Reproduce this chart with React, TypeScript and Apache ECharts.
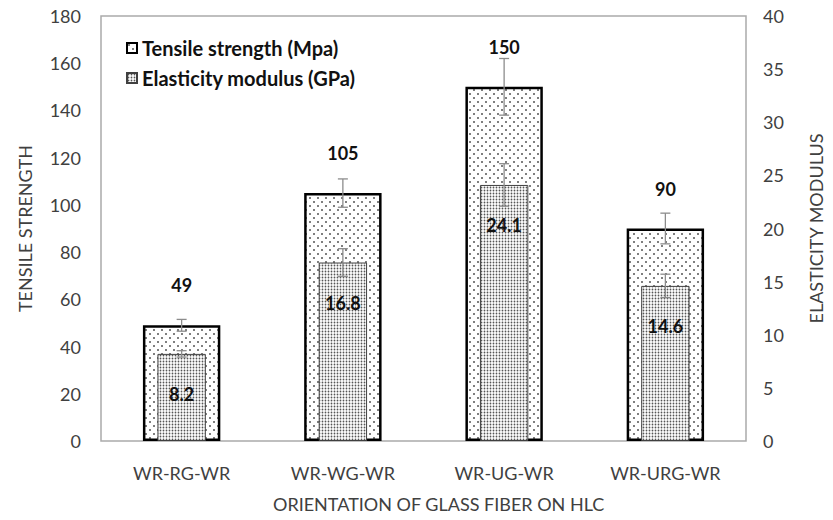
import React, { useEffect, useRef } from "react";
import * as echarts from "echarts";

const categories = ["WR-RG-WR", "WR-WG-WR", "WR-UG-WR", "WR-URG-WR"];
const tensile = [49, 105, 150, 90];
const tensileErr = [2.5, 6, 12, 6.5];
const elasticity = [8.2, 16.8, 24.1, 14.6];
const elasticityErr = [0.3, 1.3, 2.0, 1.1];

const FONT = "Lato";

function makePattern(tile: number, dots: [number, number][], r: number, dotColor: string) {
  const c = document.createElement("canvas");
  c.width = tile;
  c.height = tile;
  const ctx = c.getContext("2d")!;
  ctx.fillStyle = "#ffffff";
  ctx.fillRect(0, 0, tile, tile);
  ctx.fillStyle = dotColor;
  dots.forEach(([x, y]) => {
    ctx.beginPath();
    ctx.arc(x, y, r, 0, Math.PI * 2);
    ctx.fill();
  });
  return { image: c.toDataURL(), repeat: "repeat", imageWidth: tile, imageHeight: tile } as any;
}

export default function App() {
  const ref = useRef<HTMLDivElement>(null);
  useEffect(() => {
    if (!ref.current) return;
    const chart = echarts.init(ref.current, null, { renderer: "svg" });
    const sparse = makePattern(8, [[2, 2], [6, 6]], 1.0, "#555555");
    const dense = makePattern(3, [[1.5, 1.5]], 0.9, "#555555");

    const errItem = (params: any, api: any) => {
      const x = api.value(0);
      const lo = api.coord([x, api.value(1)]);
      const hi = api.coord([x, api.value(2)]);
      const cap = 5;
      const style = { stroke: "#8c8c8c", lineWidth: 1.3 };
      return {
        type: "group",
        children: [
          { type: "line", shape: { x1: lo[0], y1: lo[1], x2: hi[0], y2: hi[1] }, style },
          { type: "line", shape: { x1: hi[0] - cap, y1: hi[1], x2: hi[0] + cap, y2: hi[1] }, style },
          { type: "line", shape: { x1: lo[0] - cap, y1: lo[1], x2: lo[0] + cap, y2: lo[1] }, style },
        ],
      };
    };

    const labelStyle = { fontFamily: FONT, fontWeight: "bold", fontSize: 18, color: "#111" };

    chart.setOption({
      animation: false,
      textStyle: { fontFamily: FONT },
      grid: {
        left: 101,
        right: 85,
        top: 16,
        bottom: 79,
        show: true,
        borderColor: "#ababab",
        borderWidth: 1.5,
      },
      legend: {
        left: 121,
        top: 32,
        orient: "vertical",
        itemWidth: 10,
        itemHeight: 10,
        itemGap: 8,
        textStyle: { fontFamily: FONT, fontWeight: "bold", fontSize: 20, color: "#111", lineHeight: 22 },
        data: [
          { name: "Tensile strength (Mpa)", icon: "rect" },
          { name: "Elasticity modulus (GPa)", icon: "rect" },
        ],
      },
      xAxis: [
        {
          type: "category",
          data: categories,
          axisLine: { show: false },
          axisTick: { show: false },
          axisLabel: { fontFamily: FONT, fontSize: 18, color: "#404040", margin: 23 },
        },
        { type: "category", data: categories, show: false },
      ],
      yAxis: [
        {
          type: "value",
          min: 0,
          max: 180,
          interval: 20,
          name: "TENSILE STRENGTH",
          nameLocation: "middle",
          nameGap: 67,
          nameTextStyle: { fontFamily: FONT, fontSize: 18, color: "#404040" },
          axisLine: { show: false },
          axisTick: { show: false },
          splitLine: { show: false },
          axisLabel: { fontFamily: FONT, fontSize: 18, color: "#404040", margin: 20 },
        },
        {
          type: "value",
          min: 0,
          max: 40,
          interval: 5,
          position: "right",
          name: "ELASTICITY MODULUS",
          nameLocation: "middle",
          nameGap: 61,
          nameRotate: 90,
          nameTextStyle: { fontFamily: FONT, fontSize: 18, color: "#404040" },
          axisLine: { show: false },
          axisTick: { show: false },
          splitLine: { show: false },
          axisLabel: { fontFamily: FONT, fontSize: 18, color: "#404040", margin: 17 },
        },
      ],
      graphic: [
        {
          type: "text",
          left: 273,
          top: 495,
          style: { text: "ORIENTATION OF GLASS FIBER ON HLC", font: `18px ${FONT}`, fill: "#404040" },
        },
      ],
      series: [
        {
          name: "Tensile strength (Mpa)",
          type: "bar",
          xAxisIndex: 0,
          yAxisIndex: 0,
          barWidth: "48%",
          z: 2,
          data: tensile,
          itemStyle: { color: sparse, borderColor: "#000", borderWidth: 2.5 },
          label: { show: true, position: "top", distance: 31, ...labelStyle },
        },
        {
          name: "Elasticity modulus (GPa)",
          type: "bar",
          xAxisIndex: 1,
          yAxisIndex: 1,
          barWidth: "30%",
          z: 3,
          data: elasticity,
          itemStyle: { color: dense, borderColor: "#404040", borderWidth: 1 },
          label: { show: true, position: "insideTop", distance: 31, ...labelStyle },
        },
        {
          type: "custom",
          xAxisIndex: 0,
          yAxisIndex: 0,
          z: 4,
          renderItem: errItem,
          encode: { x: 0, y: [1, 2] },
          data: tensile.map((v, i) => [i, v - tensileErr[i], v + tensileErr[i]]),
          silent: true,
        },
        {
          type: "custom",
          xAxisIndex: 0,
          yAxisIndex: 1,
          z: 4,
          renderItem: errItem,
          encode: { x: 0, y: [1, 2] },
          data: elasticity.map((v, i) => [i, v - elasticityErr[i], v + elasticityErr[i]]),
          silent: true,
        },
      ],
    });
    return () => chart.dispose();
  }, []);
  return <div ref={ref} style={{ width: 833, height: 520, margin: -8 }} />;
}
